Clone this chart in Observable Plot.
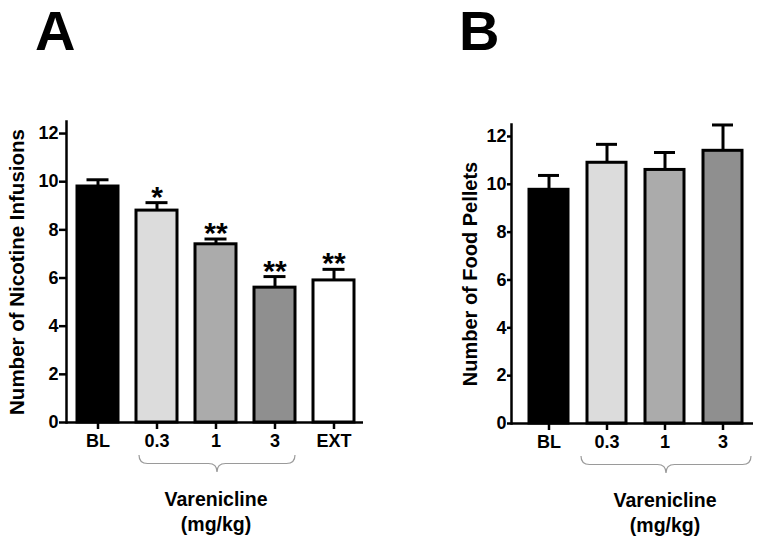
<!DOCTYPE html>
<html><head><meta charset="utf-8">
<script src="https://cdn.jsdelivr.net/npm/d3@7"></script>
<script src="https://cdn.jsdelivr.net/npm/@observablehq/plot@0.6"></script>
<style>
body{margin:0;background:#fff;}
#wrap{position:relative;width:762px;height:538px;overflow:hidden;background:#fff;font-family:"Liberation Sans",Arial,sans-serif;}
.panel{position:absolute;top:0;}
.letter{position:absolute;top:3px;font-weight:bold;font-size:56px;line-height:1;color:#000;}
</style></head><body>
<div id="wrap">
  <div class="panel" id="pa" style="left:0px"></div>
  <div class="panel" id="pb" style="left:381px"></div>
  <div class="letter" id="la" style="left:35px">A</div>
  <div class="letter" id="lb" style="left:459px">B</div>
</div>
<script>
const catsA = ["BL","0.3","1","3","EXT"];
const meanA = [9.8, 8.8, 7.4, 5.6, 5.9];
const semA = [0.28, 0.33, 0.22, 0.46, 0.46];
const starsA = ["", "*", "**", "**", "**"];
const catsB = ["BL","0.3","1","3"];
const meanB = [9.77, 10.9, 10.6, 11.4];
const semB = [0.6, 0.77, 0.73, 1.08];
const starsB = ["", "", "", ""];
const fills = ["#000000","#dcdcdc","#ababab","#8f8f8f","#ffffff"];
const yTicks = [0,2,4,6,8,10,12];
const titleA = "Number of Nicotine Infusions";
const titleB = "Number of Food Pellets";
const drugLabel = "Varenicline\n(mg/kg)";
const drugCenter = "1";
const braceFrom = "0.3";
const braceTo = "3";

const FONT = "Liberation Sans, Arial, sans-serif";

function panel(cats, mean, sem, stars, title, cfg) {
  const rows = cats.map((c, i) => ({cat: c, mean: mean[i], top: mean[i] + sem[i], star: stars[i], fill: fills[i]}));
  const svg = Plot.plot({
    width: 381, height: 538,
    marginLeft: cfg.ml, marginRight: cfg.mr, marginTop: cfg.mt, marginBottom: cfg.mb,
    style: {fontFamily: FONT, fontWeight: "bold", background: "white", overflow: "visible", color: "black"},
    x: {domain: cats, range: cfg.xr, paddingInner: cfg.pi, paddingOuter: 0},
    y: {domain: [0, 12.5]},
    color: {type: "identity"},
    marks: [
      Plot.ruleX(rows, {x: "cat", y1: "mean", y2: "top", stroke: "black", strokeWidth: 3}),
      Plot.tickY(rows, {x: "cat", y: "top", stroke: "black", strokeWidth: 3, insetLeft: cfg.cap, insetRight: cfg.cap}),
      Plot.barY(rows, {x: "cat", y: "mean", fill: "fill", stroke: "black", strokeWidth: 3}),
      Plot.text(rows, {x: "cat", y: "top", text: "star", fontSize: 30, lineAnchor: "bottom", dy: 4, fill: "black"}),
      Plot.axisY({ticks: yTicks, tickSize: cfg.yts, tickPadding: 1, fontSize: 18, label: null, strokeWidth: 2.5}),
      Plot.axisX({tickSize: 7, tickPadding: 5, fontSize: 18, label: null, strokeWidth: 2.5}),
      Plot.ruleY([0], {strokeWidth: 2.5}),
      Plot.frame({anchor: "left", strokeWidth: 2.5}),
      Plot.text([title], {frameAnchor: "left", textAnchor: "middle", lineAnchor: "middle", rotate: -90, dx: cfg.tdx, fontSize: cfg.tfs, text: d => d, fill: "black"}),
      Plot.text([drugLabel], {x: () => drugCenter, y: () => 0, text: d => d, lineAnchor: "top", dy: 65, fontSize: 19.5, lineHeight: 1.3, fill: "black"})
    ]
  });
  const xs = svg.scale("x"), ys = svg.scale("y");
  const x1 = xs.apply(braceFrom) + cfg.bl;
  const x2 = xs.apply(braceTo) + xs.bandwidth + cfg.br;
  const xm = (x1 + x2) / 2;
  const y0 = ys.apply(0) + 33, q = 8.5;
  const d = `M${x1},${y0} Q${x1},${y0+q} ${x1+q},${y0+q} L${xm-q},${y0+q} Q${xm},${y0+q} ${xm},${y0+2*q} Q${xm},${y0+q} ${xm+q},${y0+q} L${x2-q},${y0+q} Q${x2},${y0+q} ${x2},${y0}`;
  d3.select(svg).append("path").attr("d", d).attr("fill", "none").attr("stroke", "#9a9a9a").attr("stroke-width", 1.2);
  return svg;
}

document.getElementById("pa").appendChild(panel(catsA, meanA, semA, starsA, titleA,
  {ml: 66, mr: 18, mt: 121, mb: 116, xr: [76, 355], pi: 0.31, cap: 9.5, yts: 7, tdx: -49, tfs: 20.5, bl: 3, br: 0}));
document.getElementById("pb").appendChild(panel(catsB, meanB, semB, starsB, titleB,
  {ml: 130, mr: 9, mt: 124, mb: 115, xr: [146.7, 361.7], pi: 0.33, cap: 9, yts: 4, tdx: -41, tfs: 20, bl: -6, br: 9}));
</script>
</body></html>
